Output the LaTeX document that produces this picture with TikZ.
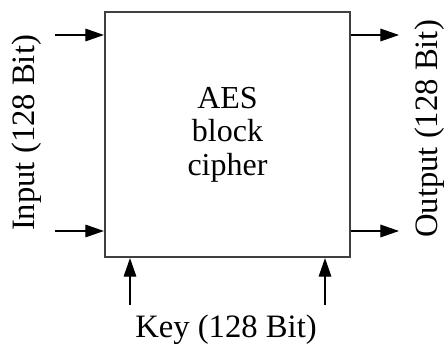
\documentclass[tikz,border=0pt]{standalone}
\usepackage{fontspec}
\setmainfont{Liberation Serif}
\usetikzlibrary{arrows.meta}
\begin{document}
\begin{tikzpicture}[x=0.75pt,y=-0.75pt,
  arr/.style={line width=0.9pt,-{Triangle[length=14pt,width=9.5pt]}},
  blk/.style={draw=black!75,line width=1.6pt,minimum width=183.75pt,minimum height=183.75pt,inner sep=0pt,align=center,font=\fontsize{24}{25}\selectfont},
  lbl/.style={inner sep=0pt,font=\fontsize{24.5}{25}\selectfont}]
\useasboundingbox (0,0) rectangle (446,346);
\node[blk] (box) at (227.5,134.5) {AES\\block\\cipher};
\coordinate (i1) at (55,35);
\coordinate (i2) at (55,231);
\coordinate (o1) at (399,35);
\coordinate (o2) at (399,231);
\coordinate (k1) at (130,305);
\coordinate (k2) at (325,305);
\draw[arr] (i1) -- (i1 -| box.west);
\draw[arr] (i2) -- (i2 -| box.west);
\draw[arr] (o1 -| box.east) -- (o1);
\draw[arr] (o2 -| box.east) -- (o2);
\draw[arr] (k1) -- (k1 |- box.south);
\draw[arr] (k2) -- (k2 |- box.south);
\node[lbl,rotate=90] (in) at (27,133) {Input (128 Bit)};
\node[lbl,rotate=90] (out) at (430,129) {Output (128 Bit)};
\node[lbl] (key) at (226,330) {Key (128 Bit)};
\end{tikzpicture}
\end{document}
